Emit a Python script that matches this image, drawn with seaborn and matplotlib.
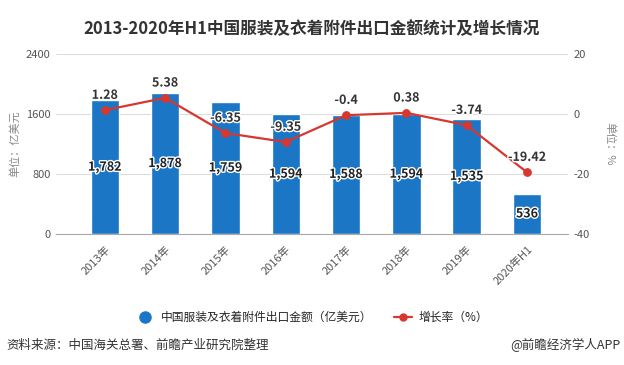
import matplotlib
matplotlib.use("Agg")
import matplotlib.pyplot as plt
import matplotlib.patheffects as pe
from matplotlib.lines import Line2D
import seaborn as sns
import pandas as pd
import numpy as np

years = ["2013年", "2014年", "2015年", "2016年", "2017年", "2018年", "2019年", "2020年H1"]
export_value = [1782, 1878, 1759, 1594, 1588, 1594, 1535, 536]
growth_rate = [1.28, 5.38, -6.35, -9.35, -0.4, 0.38, -3.74, -19.42]

BAR_COLOR = "#1b76c6"
LINE_COLOR = "#d7372e"

sns.set_style("white")
plt.rcParams["font.family"] = ["Noto Sans CJK SC", "DejaVu Sans"]
plt.rcParams["axes.unicode_minus"] = False

df = pd.DataFrame({"year": years, "value": export_value, "rate": growth_rate})
df["pos"] = np.arange(len(df))

fig = plt.figure(figsize=(6.24, 3.65), dpi=100)
ax = fig.add_axes([0.0897, 0.359, 0.8205, 0.493])

sns.barplot(data=df, x="year", y="value", color=BAR_COLOR, width=0.47,
            saturation=1, ax=ax)
ax.set_ylim(0, 2400)
ax.set_yticks([0, 800, 1600, 2400])
ax.set_xlim(-0.81, 7.68)
ax.grid(axis="y", color="#dddddd", linewidth=0.8)
ax.set_axisbelow(True)
for s in ["top", "left", "right"]:
    ax.spines[s].set_visible(False)
ax.spines["bottom"].set_color("#aaaaaa")
ax.tick_params(axis="y", length=0, labelsize=8, labelcolor="#555555", pad=4)
ax.tick_params(axis="x", length=4, color="#aaaaaa", labelsize=8, labelcolor="#555555")
plt.setp(ax.get_xticklabels(), rotation=45, ha="right", rotation_mode="anchor")
ax.set_xlabel("")
ax.set_ylabel("单位：亿美元", fontsize=8, color="#888888", labelpad=4)

for i, v in enumerate(df["value"]):
    ax.text(i, v / 2, f"{v:,}", ha="center", va="center", fontsize=9,
            fontweight="bold", color="#222222",
            path_effects=[pe.withStroke(linewidth=2, foreground="white")])

ax2 = ax.twinx()
sns.lineplot(data=df, x="pos", y="rate", color=LINE_COLOR, linewidth=1.6,
             marker="o", markersize=5.5, markeredgecolor=LINE_COLOR, ax=ax2)
ax2.set_ylim(-40, 20)
ax2.set_yticks([-40, -20, 0, 20])
ax2.set_xlim(-0.81, 7.68)
for s in ["top", "left", "right", "bottom"]:
    ax2.spines[s].set_visible(False)
ax2.tick_params(axis="y", length=0, labelsize=8, labelcolor="#555555", pad=4)
ax2.set_xlabel("")
ax2.set_ylabel("单位：%", fontsize=8, color="#888888", rotation=-90, labelpad=18)

for i, r in enumerate(df["rate"]):
    ax2.annotate(f"{r:g}", (i, r), xytext=(0, 6), textcoords="offset points",
                 ha="center", va="bottom", fontsize=9, fontweight="bold",
                 color="#333333",
                 path_effects=[pe.withStroke(linewidth=2, foreground="white")])

fig.suptitle("2013-2020年H1中国服装及衣着附件出口金额统计及增长情况",
             x=0.5, y=0.945, fontsize=12, fontweight="bold", color="#333333")

handles = [
    Line2D([], [], color=BAR_COLOR, marker="o", linestyle="none", markersize=8),
    Line2D([], [], color=LINE_COLOR, marker="o", linewidth=1.6, markersize=5),
]
fig.legend(handles, ["中国服装及衣着附件出口金额（亿美元）", "增长率（%）"],
           loc="center", bbox_to_anchor=(0.5, 0.131), ncol=2, frameon=False,
           fontsize=8.5, handlelength=1.6, columnspacing=1.8, handletextpad=0.5)

fig.text(0.01, 0.055, "资料来源：中国海关总署、前瞻产业研究院整理", fontsize=9,
         color="#333333", va="center", ha="left")
fig.text(0.995, 0.055, "@前瞻经济学人APP", fontsize=9, color="#333333",
         va="center", ha="right")

fig.savefig("out.png", dpi=100)
